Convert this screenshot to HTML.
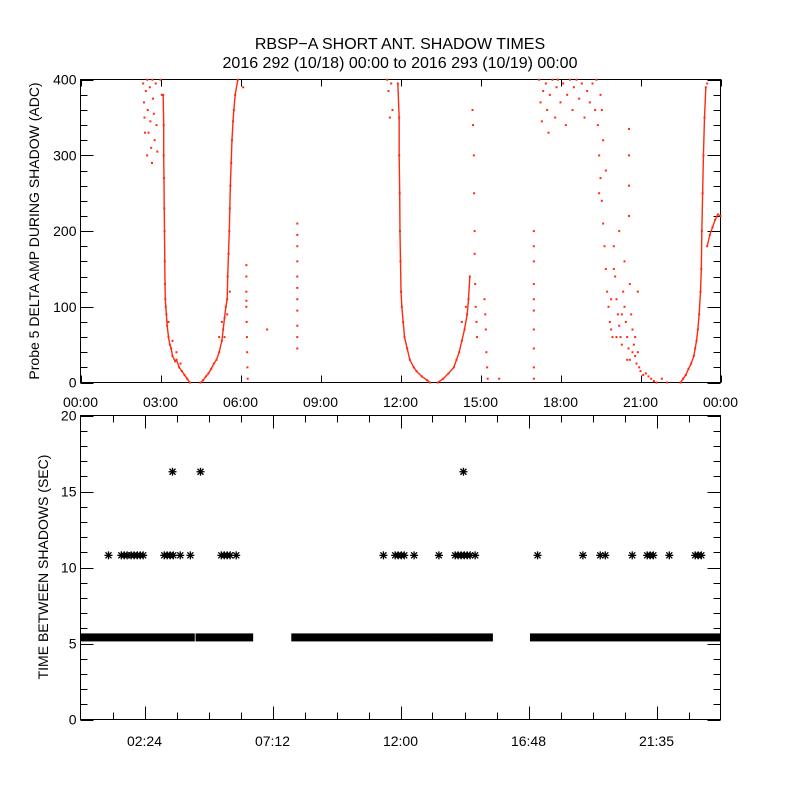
<!DOCTYPE html>
<html><head><meta charset="utf-8"><style>
html,body{margin:0;padding:0;background:#fff;}
svg{display:block;font-family:"Liberation Sans",sans-serif;}
</style></head><body>
<svg id="chart" width="800" height="800" viewBox="0 0 800 800" xmlns="http://www.w3.org/2000/svg">
<rect width="800" height="800" fill="#fff"/>
<text x="400" y="49" font-size="16" text-anchor="middle">RBSP−A SHORT ANT. SHADOW TIMES</text>
<text x="400" y="68" font-size="16" text-anchor="middle">2016 292 (10/18) 00:00 to 2016 293 (10/19) 00:00</text>
<g id="topPanel"></g>
<g id="botPanel"></g>
<text transform="translate(39,231) rotate(-90)" font-size="14" text-anchor="middle">Probe 5 DELTA AMP DURING SHADOW (ADC)</text>
<text transform="translate(48,567) rotate(-90)" font-size="14" text-anchor="middle">TIME BETWEEN SHADOWS (SEC)</text>
</svg>
<script>
// ---- data ----
const topXTicks = ["00:00","03:00","06:00","09:00","12:00","15:00","18:00","21:00","00:00"];
const topYTicks = [0,100,200,300,400];
const botXTicks = ["02:24","07:12","12:00","16:48","21:35"];
const botXTickHours = [2.4,7.2,12,16.8,21.6];
const botYTicks = [0,5,10,15,20];
// amplitude traces (hour, ADC)
const descent1 = [[3.1,380],[3.12,340],[3.12,300],[3.13,270],[3.14,230],[3.15,200],[3.16,160],[3.17,130],[3.18,110],[3.2,100],[3.22,90],[3.25,75],[3.3,60],[3.35,50],[3.4,45],[3.45,35],[3.55,28],[3.6,30],[3.7,20],[3.8,15],[3.9,10],[4.0,5],[4.1,0]];
const ascent1 = [[4.5,0],[4.6,3],[4.7,8],[4.8,12],[4.9,18],[5.0,25],[5.1,30],[5.2,40],[5.3,55],[5.35,70],[5.4,85],[5.45,100],[5.5,110],[5.52,140],[5.55,170],[5.58,200],[5.6,230],[5.62,260],[5.65,290],[5.68,320],[5.72,345],[5.75,360],[5.8,380],[5.9,400]];
const descent2 = [[11.9,395],[11.95,350],[11.95,300],[11.97,250],[11.98,200],[12.0,160],[12.02,120],[12.05,100],[12.1,80],[12.15,60],[12.25,45],[12.35,30],[12.5,20],[12.6,15],[12.8,8],[13.0,3],[13.1,0]];
const ascent2 = [[13.4,0],[13.6,5],[13.8,12],[14.0,20],[14.1,30],[14.2,40],[14.3,55],[14.4,70],[14.5,90],[14.55,110],[14.6,140]];
const ascent3 = [[22.5,0],[22.6,5],[22.7,10],[22.8,18],[22.9,25],[23.0,35],[23.05,45],[23.1,55],[23.15,70],[23.2,90],[23.25,120],[23.28,150],[23.3,200],[23.33,250],[23.36,300],[23.4,350],[23.45,390]];
const tail3 = [[23.5,180],[23.6,195],[23.7,205],[23.8,215],[23.9,222],[24,220]];
const scatterPts = [[2.35,395],[2.38,370],[2.4,350],[2.45,385],[2.5,400],[2.52,360],[2.55,330],[2.6,390],[2.62,345],[2.65,310],[2.7,400],[2.72,375],[2.75,355],[2.78,320],[2.82,395],[2.85,340],[2.88,305],[2.5,300],[2.42,330],[2.68,290],[3.0,400],[3.05,380],
[3.3,80],[3.45,55],[3.6,40],[3.75,25],[5.2,60],[5.3,80],[5.4,60],[5.5,90],[5.6,120],[6.1,390],
[6.22,155],[6.22,140],[6.22,120],[6.22,108],[6.22,100],[6.23,80],[6.24,60],[6.25,40],[6.26,20],[6.27,5],[7.0,70],
[8.13,210],[8.13,195],[8.13,180],[8.13,160],[8.13,140],[8.13,125],[8.13,110],[8.13,95],[8.13,75],[8.13,60],[8.13,45],
[11.5,400],[11.55,385],[11.6,350],[11.65,395],[11.7,360],
[14.7,360],[14.72,340],[14.75,300],[14.76,250],[14.78,200],[14.78,170],[14.8,130],[14.82,100],[14.85,80],[14.87,60],[14.3,80],[14.45,100],
[15.15,110],[15.18,90],[15.2,70],[15.22,40],[15.25,20],[15.27,5],[15.7,5],
[17.0,200],[17.0,180],[17.0,160],[17.0,130],[17.0,110],[17.0,95],[17.0,70],[17.0,45],[17.0,20],[17.0,5],
[17.2,400],[17.25,370],[17.3,345],[17.35,385],[17.45,395],[17.5,360],[17.55,330],[17.6,380],[17.7,400],[17.8,350],[17.85,390],[17.9,400],[18.0,370],[18.1,395],[18.2,340],[18.25,380],[18.35,400],[18.45,360],[18.5,390],[18.6,400],[18.7,375],[18.8,395],[18.9,350],[19.0,385],[19.1,370],[19.2,395],[19.3,360],[19.35,400],
[19.4,340],[19.45,300],[19.5,270],[19.55,240],[19.6,210],[19.65,180],[19.7,150],[19.75,120],[19.8,100],[19.85,80],[19.9,70],[19.95,60],[20.0,180],[20.05,140],[20.1,110],[20.15,90],[20.2,75],[20.25,60],[20.3,50],[20.35,120],[20.4,100],[20.45,80],[20.5,60],[20.55,45],[20.6,30],[20.65,90],[20.7,70],[20.75,50],[20.8,35],[20.85,25],[20.9,40],[20.95,20],[21.0,15],[21.1,10],[21.2,12],[21.3,8],[21.4,5],[21.5,2],[21.6,0],[21.8,5],[22.0,0],
[20.0,150],[20.4,160],[20.6,130],[20.9,120],[19.45,250],[19.6,320],[19.7,280],[20.2,200],[20.57,335],[20.57,300],[20.57,260],[20.57,220],[19.5,380],[19.55,360],[19.9,110],[20.1,60],[20.3,90],[20.5,30],[20.7,40],[20.8,60],[23.5,395]];
// interval data (hour ranges at ~5.4 s, discrete markers)
const bandRanges = [[0,4.21],[4.39,6.4],[7.98,13.2],[13.34,15.39],[16.93,24]];
const bandValue = 5.4;
const mark11Times = [1.05,1.53,1.64,1.75,1.9,2.01,2.13,2.24,2.35,3.14,3.25,3.36,3.48,3.74,4.12,5.28,5.39,5.5,5.61,5.84,11.36,11.8,11.91,12.03,12.14,12.51,13.44,14.05,14.16,14.27,14.39,14.5,14.61,14.8,17.14,18.84,19.49,19.68,20.69,21.25,21.36,21.48,22.08,23.05,23.16,23.28];
const mark11Value = 10.8;
const mark16Times = [3.45,4.5,14.36];
const mark16Value = 16.3;

// ---- axes ----
const NS="http://www.w3.org/2000/svg";
const L=80.5,R=720.5;
const xs=h=>L+h/24*(R-L);
const T1=79.5,B1=382.5; const y1=v=>B1-v*0.757;
const T2=415.5,B2=719.5; const y2=v=>B2-v*15.2;
function mk(p,tag,attrs){const e=document.createElementNS(NS,tag);for(const k in attrs)e.setAttribute(k,attrs[k]);p.appendChild(e);return e;}
const topG=document.getElementById('topPanel'), botG=document.getElementById('botPanel');

// top frame
let fr=mk(topG,'rect',{x:L,y:T1,width:R-L,height:B1-T1,fill:'none',stroke:'#000','stroke-width':1});


for(let v=0;v<=400;v+=20){const major=v%100===0;const len=major?13:7;const y=Math.round(y1(v))+0.5;
 mk(topG,'line',{x1:L,x2:L+len,y1:y,y2:y,stroke:'#000'});mk(topG,'line',{x1:R,x2:R-len,y1:y,y2:y,stroke:'#000'});}
topYTicks.forEach(v=>{const t=mk(topG,'text',{x:L-4,y:y1(v)+5,'font-size':14,'text-anchor':'end'});t.textContent=v;
 
 });
topXTicks.forEach((s,i)=>{const x=Math.round(xs(i*3))+0.5;
 mk(topG,'line',{x1:x,x2:x,y1:B1,y2:B1-7,stroke:'#000'});mk(topG,'line',{x1:x,x2:x,y1:T1,y2:T1+7,stroke:'#000'});
 const t=mk(topG,'text',{x:xs(i*3),y:407,'font-size':14,'text-anchor':'middle'});t.textContent=s;
 
 });
// red points
const red='#ff2a10';
[descent1,ascent1,descent2,ascent2,ascent3,tail3].forEach(arr=>{
 const pl=mk(topG,'polyline',{points:arr.map(p=>xs(p[0])+','+y1(p[1])).join(' '),fill:'none',stroke:red,'stroke-width':1.4});
 
 
 arr.forEach(p=>{const d=mk(topG,'rect',{x:xs(p[0])-1,y:y1(p[1])-1,width:2,height:2,fill:red});
  
  });});
scatterPts.forEach(p=>{const d=mk(topG,'rect',{x:xs(p[0])-1,y:y1(p[1])-1,width:2,height:2,fill:red});
 
 });

// bottom frame
fr=mk(botG,'rect',{x:L,y:T2,width:R-L,height:B2-T2,fill:'none',stroke:'#000','stroke-width':1});


for(let v=0;v<=20;v+=1){const major=v%5===0;const len=major?13:7;const y=Math.round(y2(v))+0.5;
 mk(botG,'line',{x1:L,x2:L+len,y1:y,y2:y,stroke:'#000'});mk(botG,'line',{x1:R,x2:R-len,y1:y,y2:y,stroke:'#000'});}
botYTicks.forEach(v=>{const t=mk(botG,'text',{x:L-4,y:y2(v)+5,'font-size':14,'text-anchor':'end'});t.textContent=v;
 
 });
for(let k=1;k<20;k++){const h=k*1.2;const major=(k%4===2);const len=major?13:7;const x=Math.round(xs(h))+0.5;
 mk(botG,'line',{x1:x,x2:x,y1:B2,y2:B2-len,stroke:'#000'});mk(botG,'line',{x1:x,x2:x,y1:T2,y2:T2+len,stroke:'#000'});}
botXTicks.forEach((s,i)=>{const t=mk(botG,'text',{x:xs(botXTickHours[i]),y:746,'font-size':14,'text-anchor':'middle'});t.textContent=s;
 
 });
function star(cx,cy){const g=mk(botG,'g',{stroke:'#000','stroke-width':1.3});
 
 
 mk(g,'line',{x1:cx-4,x2:cx+4,y1:cy,y2:cy});mk(g,'line',{x1:cx,x2:cx,y1:cy-4,y2:cy+4});
 mk(g,'line',{x1:cx-3,x2:cx+3,y1:cy-3,y2:cy+3});mk(g,'line',{x1:cx-3,x2:cx+3,y1:cy+3,y2:cy-3});}
bandRanges.forEach(r=>{const x0=Math.max(L,xs(r[0])-2),x1=Math.min(R,xs(r[1])+2);
 const b=mk(botG,'rect',{x:x0,y:y2(bandValue)-4,width:x1-x0,height:8,fill:'#000'});
 
 });
mark11Times.forEach(h=>star(xs(h),y2(mark11Value)));
mark16Times.forEach(h=>star(xs(h),y2(mark16Value)));
</script>
</body></html>
